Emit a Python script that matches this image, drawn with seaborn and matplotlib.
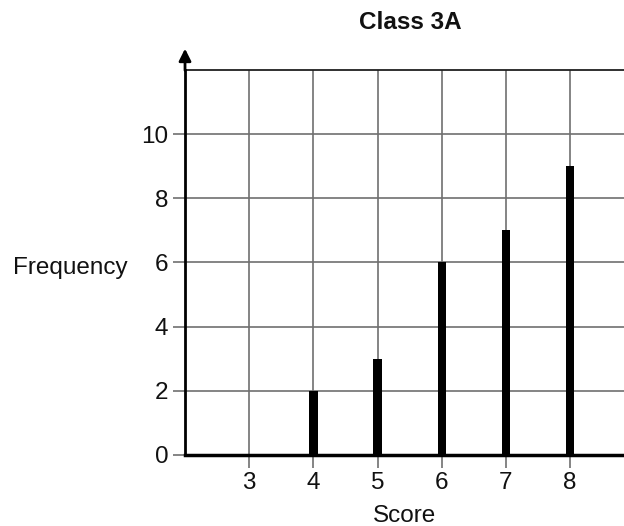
import seaborn as sns
import matplotlib.pyplot as plt

# dados
scores = [3, 4, 5, 6, 7, 8]
frequency = [0, 2, 3, 6, 7, 9]
y_ticks = [0, 2, 4, 6, 8, 10]

sns.set_theme(style="white")
plt.rcParams['font.family'] = ['Liberation Sans', 'DejaVu Sans']

fig = plt.figure(figsize=(6.24, 5.26), dpi=100)
ax = fig.add_axes([0.2965, 0.135, 0.7035, 0.732])

sns.barplot(x=scores, y=frequency, native_scale=True, width=0.13,
            color="black", linewidth=0, saturation=1, ax=ax, zorder=3)

ax.set_xlim(2, 8.84)
ax.set_ylim(0, 12)
ax.set_xticks(scores)
ax.set_yticks(y_ticks)
ax.set_xticklabels([str(s) for s in scores])
ax.set_yticklabels([str(t) for t in y_ticks])

# grade
for x in scores:
    ax.axvline(x, color="#707070", lw=1.2, zorder=1)
for y in range(2, 12, 2):
    ax.axhline(y, color="#707070", lw=1.2, zorder=1)
ax.axhline(12, color="#202020", lw=1.3, zorder=1, clip_on=False)

for side in ["top", "right"]:
    ax.spines[side].set_visible(False)
ax.spines["left"].set_linewidth(2)
ax.spines["bottom"].set_linewidth(2.5)
ax.spines["left"].set_color("black")
ax.spines["bottom"].set_color("black")

ax.tick_params(axis="both", direction="out", length=9, width=1.2,
               color="#707070", labelsize=17.5, labelcolor="#111111", pad=3)
ax.tick_params(left=True, bottom=True)

# seta no eixo y
ax.annotate("", xy=(2, 12.75), xytext=(2, 11.9),
            arrowprops=dict(arrowstyle="-|>", color="black", lw=2,
                            mutation_scale=18),
            annotation_clip=False)

ax.set_xlabel("Score", fontsize=17.5, labelpad=8, color="#111111")
ax.set_ylabel("Frequency", fontsize=17.5, rotation=0, color="#111111",
              ha="center", va="center")
ax.yaxis.set_label_coords(-0.262, 0.486)
fig.text(0.657, 0.958, "Class 3A", fontsize=17.5, fontweight="bold",
         ha="center", va="center", color="#111111")

plt.savefig("out.png", dpi=100)
